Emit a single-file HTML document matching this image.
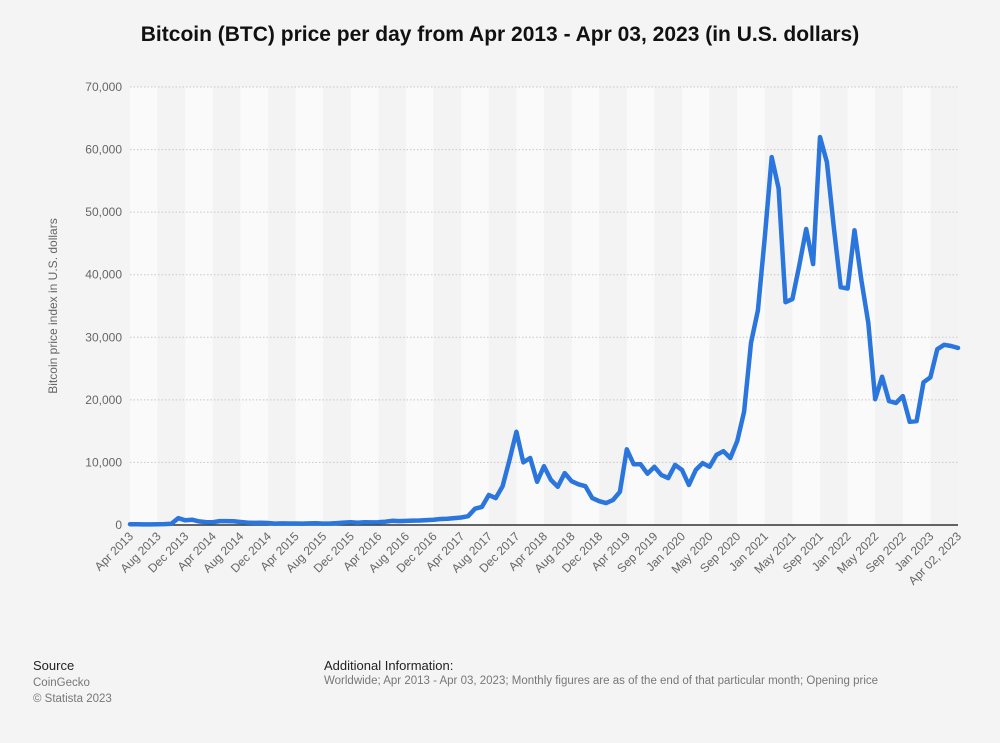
<!DOCTYPE html>
<html><head><meta charset="utf-8"><style>
body{margin:0;background:#f4f4f4;font-family:"Liberation Sans",sans-serif;}
#wrap{position:relative;width:1000px;height:743px;overflow:hidden;}
.t{position:absolute;white-space:nowrap;}
</style></head><body>
<div id="wrap">
<div class="t" style="left:0;width:1000px;text-align:center;top:23px;font-size:21px;font-weight:bold;color:#111;">Bitcoin (BTC) price per day from Apr 2013 - Apr 03, 2023 (in U.S. dollars)</div>
<svg id="chart" width="1000" height="743" style="position:absolute;left:0;top:0"></svg>
<div class="t" style="left:33px;top:658px;font-size:13px;color:#222;">Source</div>
<div class="t" style="left:33px;top:675px;font-size:11.5px;color:#777;line-height:16px;">CoinGecko<br>© Statista 2023</div>
<div class="t" style="left:324px;top:658px;font-size:13px;color:#222;">Additional Information:</div>
<div class="t" style="left:324px;top:675px;font-size:11.5px;color:#777;">Worldwide; Apr 2013 - Apr 03, 2023; Monthly figures are as of the end of that particular month; Opening price</div>
</div>
<script>
const prices = [0.13,0.13,0.1,0.1,0.13,0.14,0.2,1.1,0.75,0.85,0.57,0.46,0.45,0.63,0.63,0.59,0.48,0.39,0.34,0.37,0.32,0.22,0.25,0.24,0.24,0.23,0.26,0.28,0.23,0.24,0.31,0.38,0.43,0.37,0.44,0.42,0.45,0.53,0.67,0.62,0.65,0.7,0.72,0.78,0.85,0.96,1.0,1.1,1.2,1.4,2.6,2.9,4.8,4.3,6.2,10.4,14.9,10.0,10.7,6.9,9.4,7.2,6.1,8.3,7.0,6.5,6.2,4.3,3.8,3.5,4.0,5.3,12.1,9.7,9.7,8.2,9.3,8.0,7.5,9.6,8.8,6.4,8.8,9.9,9.3,11.2,11.8,10.7,13.4,18.1,29.1,34.3,46.0,58.8,53.8,35.6,36.1,41.5,47.3,41.7,62.0,58.0,47.6,38.0,37.8,47.1,39.1,32.3,20.1,23.7,19.8,19.5,20.6,16.5,16.6,22.8,23.6,28.1,28.8,28.6,28.3];
const xLabels = ["Apr 2013","Aug 2013","Dec 2013","Apr 2014","Aug 2014","Dec 2014","Apr 2015","Aug 2015","Dec 2015","Apr 2016","Aug 2016","Dec 2016","Apr 2017","Aug 2017","Dec 2017","Apr 2018","Aug 2018","Dec 2018","Apr 2019","Sep 2019","Jan 2020","May 2020","Sep 2020","Jan 2021","May 2021","Sep 2021","Jan 2022","May 2022","Sep 2022","Jan 2023","Apr 02, 2023"];
const labelIdx = [0,4,8,12,16,20,24,28,32,36,40,44,48,52,56,60,64,68,72,76,80,84,88,92,96,100,104,108,112,116,120];
const yTicks = [0,10000,20000,30000,40000,50000,60000,70000];
const yTickLabels = ["0","10,000","20,000","30,000","40,000","50,000","60,000","70,000"];

const NS="http://www.w3.org/2000/svg";
const svg=document.getElementById('chart');
const X0=130,X1=958,Y0=525,Y1=87,YMAX=70000;
const n=prices.length;
const xs=i=>X0+(X1-X0)*i/(n-1);
const ys=v=>Y0-(Y0-Y1)*v/YMAX;
function mk(tag,attrs){const e=document.createElementNS(NS,tag);for(const k in attrs)e.setAttribute(k,attrs[k]);svg.appendChild(e);return e;}
for(let b=0;b*4<n-1;b++){
  const xa=xs(b*4), xb=Math.min(xs(b*4+4),X1);
  const r=mk('rect',{x:xa,y:Y1,width:xb-xa,height:Y0-Y1,fill:b%2?'#f3f3f3':'#fafafa'});
  
  
}
yTicks.forEach((t,i)=>{
  if(t>0){const g=mk('line',{x1:X0,x2:X1,y1:ys(t),y2:ys(t),stroke:'#c8c8c8','stroke-dasharray':'1.5,2','stroke-width':1});
  
  }
  const tx=mk('text',{x:122,y:ys(t)+4,'text-anchor':'end','font-size':12,fill:'#666','font-family':'Liberation Sans'});
  tx.textContent=yTickLabels[i];
  
  
});
const yt=mk('text',{x:0,y:0,transform:'translate(57,306) rotate(-90)','text-anchor':'middle','font-size':12,fill:'#666','font-family':'Liberation Sans'});
yt.textContent='Bitcoin price index in U.S. dollars';


const bl=mk('line',{x1:X0,x2:X1,y1:Y0,y2:Y0,stroke:'#333','stroke-width':1.5});


labelIdx.forEach((idx,i)=>{
  const x=xs(idx);
  const tx=mk('text',{x:0,y:0,transform:`translate(${x+4},${Y0+12}) rotate(-45)`,'text-anchor':'end','font-size':12,fill:'#666','font-family':'Liberation Sans'});
  tx.textContent=xLabels[i];
  
  
});
const d=prices.map((v,i)=>(i?'L':'M')+xs(i).toFixed(1)+','+ys(v*1000).toFixed(1)).join(' ');
const p=mk('path',{d:d,fill:'none',stroke:'#2a76dd','stroke-width':4.5,'stroke-linejoin':'round','stroke-linecap':'round'});


</script>
</body></html>
